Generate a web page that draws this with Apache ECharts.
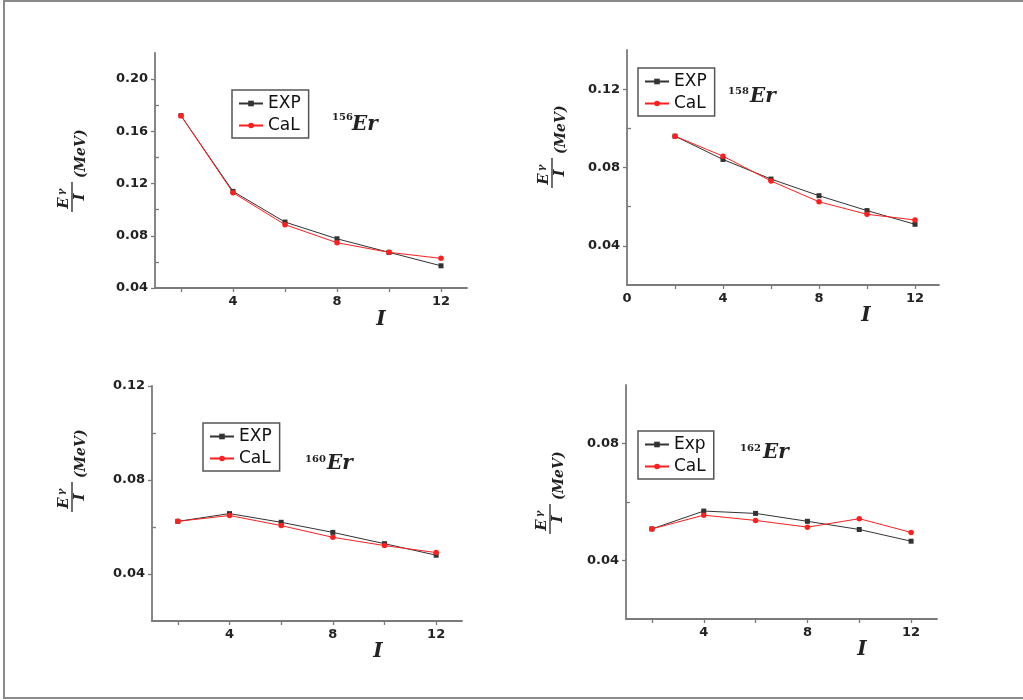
<!DOCTYPE html>
<html>
<head>
<meta charset="utf-8">
<script src="https://cdn.jsdelivr.net/npm/echarts@6/dist/echarts.min.js"></script>
<style>
    html, body {margin: 0; padding: 0; background: #fff;}
    #main {width: 1023px; height: 700px;}
</style>
</head>
<body>
<div id="main"></div>
<script>
// spin values I
let spins = [2, 4, 6, 8, 10, 12];

// E_gamma / I (MeV)
let exp156 = [0.172, 0.114, 0.0905, 0.0777, 0.0673, 0.057];
let cal156 = [0.172, 0.113, 0.0885, 0.0747, 0.0673, 0.0627];
let exp158 = [0.096, 0.0841, 0.0741, 0.0656, 0.058, 0.051];
let cal158 = [0.096, 0.0858, 0.0731, 0.0625, 0.0561, 0.0532];
let exp160 = [0.0624, 0.0657, 0.062, 0.0577, 0.0529, 0.048];
let cal160 = [0.0624, 0.0649, 0.0606, 0.0556, 0.0521, 0.0491];
let exp162 = [0.0508, 0.0569, 0.0561, 0.0534, 0.0506, 0.0466];
let cal162 = [0.0508, 0.0555, 0.0537, 0.0514, 0.0543, 0.0496];

// tick labels
let xTicks = [2, 4, 6, 8, 10, 12];
let xLabels = [4, 8, 12];
let xLabels158 = [0, 4, 8, 12];
let yLabels156 = [0.04, 0.08, 0.12, 0.16, 0.20];
let yMinor156 = [0.06, 0.10, 0.14, 0.18];
let yLabels158 = [0.04, 0.08, 0.12];
let yMinor158 = [0.06, 0.10];
let yLabels160 = [0.04, 0.08, 0.12];
let yMinor160 = [0.06, 0.10];
let yLabels162 = [0.04, 0.08];
let yMinor162 = [0.06];

let panels = [
    {mass: '156', expName: 'EXP', exp: exp156, cal: cal156, xMin: 1, xMax: 13, xLab: xLabels,
        yMin: 0.04, yMax: 0.22, yLab: yLabels156, yMinor: yMinor156,
        grid: {left: 155, top: 53, width: 312, height: 235},
        legend: {left: 232, top: 90}, yName: [72, 168], iName: [381, 320], iso: [332, 352, 117, 125]},
    {mass: '158', expName: 'EXP', exp: exp158, cal: cal158, xMin: 0, xMax: 13, xLab: xLabels158,
        yMin: 0.02, yMax: 0.14, yLab: yLabels158, yMinor: yMinor158,
        grid: {left: 627, top: 50, width: 312, height: 235},
        legend: {left: 638, top: 68}, yName: [552, 144], iName: [866, 316], iso: [728, 750, 91, 97]},
    {mass: '160', expName: 'EXP', exp: exp160, cal: cal160, xMin: 1, xMax: 13, xLab: xLabels,
        yMin: 0.02, yMax: 0.12, yLab: yLabels160, yMinor: yMinor160,
        grid: {left: 152, top: 386, width: 310, height: 235},
        legend: {left: 203, top: 423}, yName: [72, 468], iName: [378, 652], iso: [305, 327, 459, 464]},
    {mass: '162', expName: 'Exp', exp: exp162, cal: cal162, xMin: 1, xMax: 13, xLab: xLabels,
        yMin: 0.02, yMax: 0.10, yLab: yLabels162, yMinor: yMinor162,
        grid: {left: 626, top: 385, width: 311, height: 234},
        legend: {left: 638, top: 431}, yName: [550, 490], iName: [862, 650], iso: [740, 763, 448, 453]}
];

const axisColor = '#7a7a7a';
const mathFont = '"DejaVu Serif", serif';

function pairs(vals) {
    return spins.map((s, i) => [s, vals[i]]);
}

// rotated label E_gamma / I (MeV)
function yNameGroup(x, y) {
    return {
        type: 'group',
        x: x,
        y: y,
        rotation: Math.PI / 2,
        children: [
            {type: 'text', style: {text: 'E', x: -35, y: -8, align: 'center', verticalAlign: 'middle',
                    font: 'italic bold 15px ' + mathFont, fill: '#222'}},
            {type: 'text', style: {text: 'γ', x: -24, y: -11, align: 'center', verticalAlign: 'middle',
                    font: 'italic bold 10px ' + mathFont, fill: '#222'}},
            {type: 'line', shape: {x1: -44, y1: 0, x2: -14, y2: 0}, style: {stroke: '#222', lineWidth: 1.3}},
            {type: 'text', style: {text: 'I', x: -29, y: 8, align: 'center', verticalAlign: 'middle',
                    font: 'italic bold 15px ' + mathFont, fill: '#222'}},
            {type: 'text', style: {text: '(MeV)', x: -10, y: 9, align: 'left', verticalAlign: 'middle',
                    font: 'italic bold 14px ' + mathFont, fill: '#222'}}
        ]
    };
}

let grids = [], xAxes = [], yAxes = [], series = [], legends = [];
let graphics = [
    {type: 'rect', shape: {x: 4, y: 1, width: 1040, height: 697}, style: {fill: 'none', stroke: '#8a8a8a', lineWidth: 2}}
];

panels.forEach((p, k) => {
    grids.push(p.grid);
    xAxes.push({
        type: 'value', gridIndex: k, min: p.xMin, max: p.xMax,
        axisLine: {lineStyle: {color: axisColor, width: 1.8}},
        axisTick: {length: 4, customValues: xTicks, lineStyle: {color: axisColor, width: 1.3}},
        axisLabel: {customValues: p.xLab, margin: 7, color: '#222',
            fontFamily: 'DejaVu Sans', fontWeight: 'bold', fontSize: 13},
        splitLine: {show: false}
    });
    yAxes.push({
        type: 'value', gridIndex: k, min: p.yMin, max: p.yMax,
        axisLine: {show: true, lineStyle: {color: axisColor, width: 1.8}},
        axisTick: {show: true, length: 4, customValues: p.yLab, lineStyle: {color: axisColor, width: 1.3}},
        axisLabel: {customValues: p.yLab, margin: 7, color: '#222',
            fontFamily: 'DejaVu Sans', fontWeight: 'bold', fontSize: 13,
            formatter: v => v.toFixed(2)},
        splitLine: {show: false}
    });
    yAxes.push({
        type: 'value', gridIndex: k, min: p.yMin, max: p.yMax, position: 'left',
        axisLine: {show: false},
        axisTick: {show: true, inside: true, length: 4, customValues: p.yMinor, lineStyle: {color: axisColor, width: 1.3}},
        axisLabel: {show: false},
        splitLine: {show: false}
    });
    series.push({
        name: p.expName, type: 'line', xAxisIndex: k, yAxisIndex: 2 * k,
        data: pairs(p.exp), symbol: 'rect', symbolSize: 5,
        lineStyle: {color: '#333', width: 1}, itemStyle: {color: '#333'}
    });
    series.push({
        name: 'CaL', type: 'line', xAxisIndex: k, yAxisIndex: 2 * k,
        data: pairs(p.cal), symbol: 'circle', symbolSize: 5.5,
        lineStyle: {color: '#ff1f1f', width: 1}, itemStyle: {color: '#ff1f1f'}
    });
    legends.push({
        left: p.legend.left, top: p.legend.top, orient: 'vertical',
        data: [p.expName, 'CaL'],
        itemWidth: 24, itemHeight: 7, itemGap: 3,
        padding: [4, 8, 3, 6],
        borderColor: '#555', borderWidth: 1.5,
        selectedMode: false,
        textStyle: {fontFamily: 'DejaVu Sans', fontSize: 17, color: '#111', lineHeight: 19}
    });
    graphics.push(yNameGroup(p.yName[0], p.yName[1]));
    graphics.push({type: 'text', style: {text: 'I', x: p.iName[0], y: p.iName[1], align: 'center',
            verticalAlign: 'middle', font: 'italic bold 20px ' + mathFont, fill: '#222'}});
    graphics.push({type: 'text', style: {text: p.mass, x: p.iso[0], y: p.iso[2], align: 'left',
            verticalAlign: 'middle', font: 'bold 10px ' + mathFont, fill: '#222'}});
    graphics.push({type: 'text', style: {text: 'Er', x: p.iso[1], y: p.iso[3], align: 'left',
            verticalAlign: 'middle', font: 'italic bold 20px ' + mathFont, fill: '#222'}});
});

let myChart = echarts.init(document.getElementById('main'), null, {renderer: 'canvas'});
myChart.setOption({
    animation: false,
    backgroundColor: '#fff',
    grid: grids,
    xAxis: xAxes,
    yAxis: yAxes,
    legend: legends,
    series: series,
    graphic: graphics
});
</script>
</body>
</html>
